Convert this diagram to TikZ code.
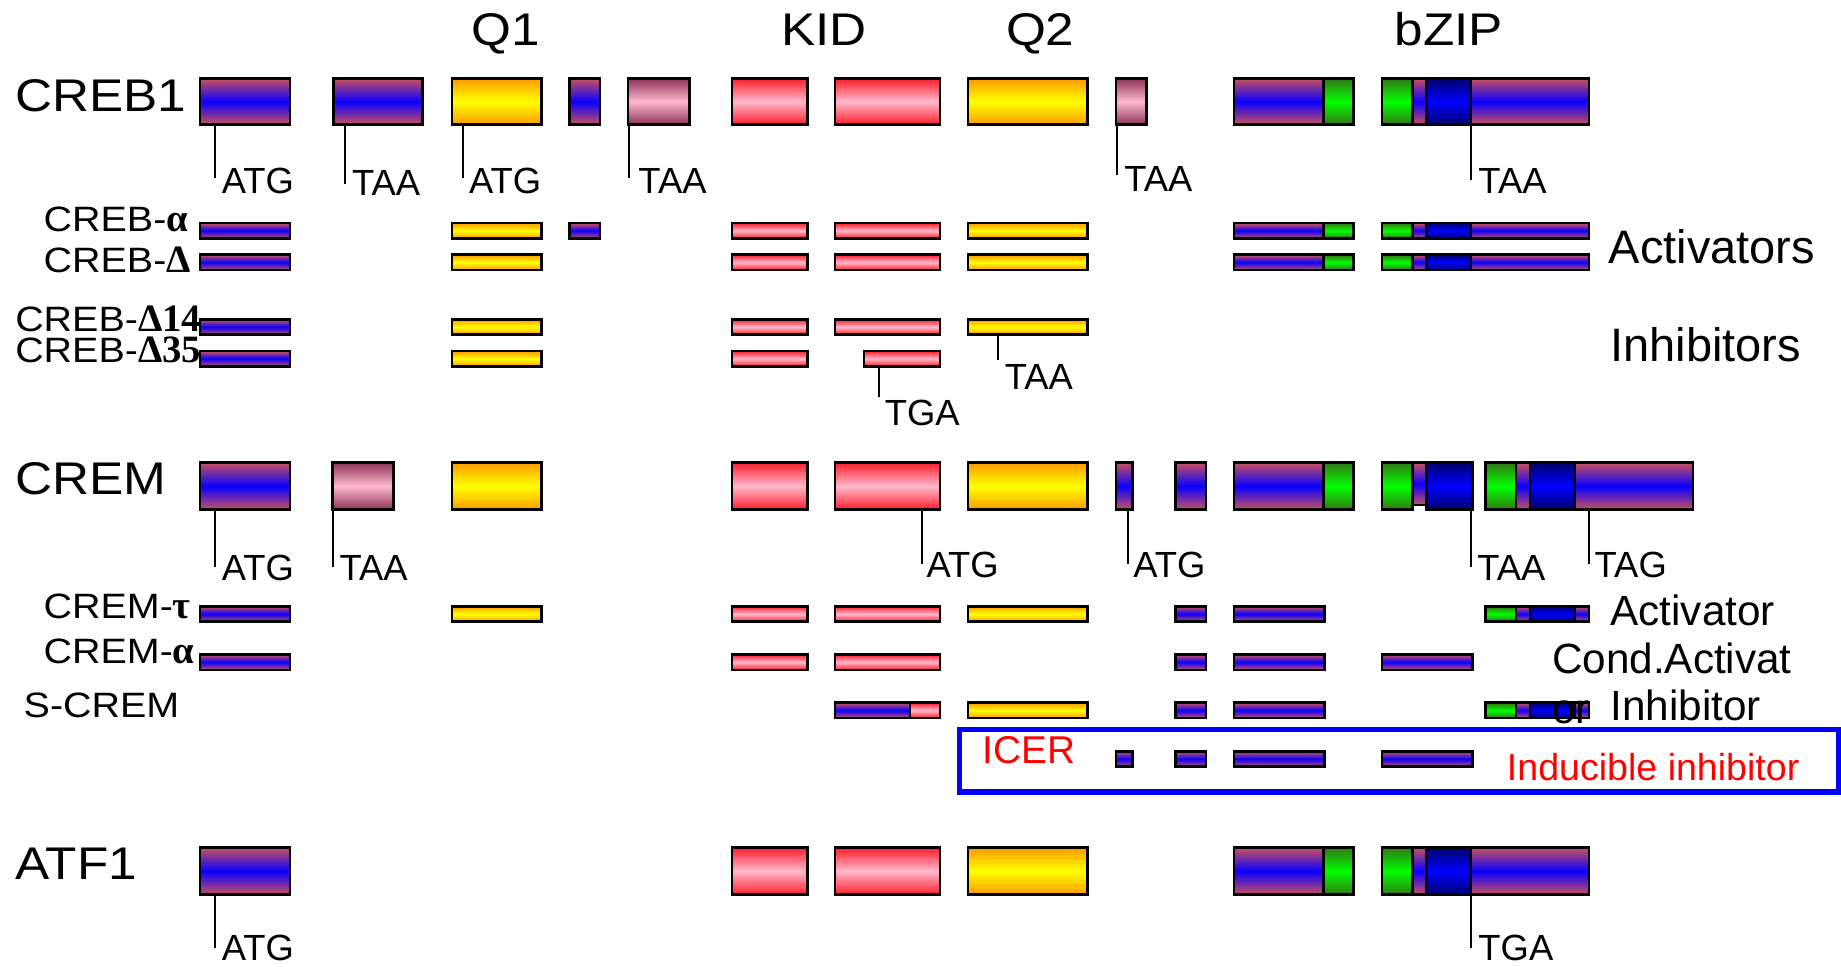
\documentclass[tikz,border=0pt]{standalone}
\usepackage{fontspec}
\setmainfont{Liberation Sans}
\newfontfamily\labfont[FakeStretch=1.12]{Liberation Sans}
\newfontfamily\grkfont{Liberation Serif}
\newcommand\fs[1]{\fontsize{#1pt}{#1pt}\selectfont}

% exon colours: edge / centre of each vertical gradient
\definecolor{purpEdge}{RGB}{200,80,95}
\definecolor{purpMid}{RGB}{10,0,255}
\definecolor{yelEdge}{RGB}{255,155,0}
\definecolor{yelMid}{RGB}{255,255,0}
\definecolor{kidEdge}{RGB}{255,30,45}
\definecolor{kidMid}{RGB}{255,185,205}
\definecolor{mauvEdge}{RGB}{140,50,90}
\definecolor{mauvMid}{RGB}{255,185,205}
\definecolor{grnEdge}{RGB}{50,120,20}
\definecolor{grnMid}{RGB}{0,255,0}
\definecolor{dbEdge}{RGB}{0,0,110}
\definecolor{dbMid}{RGB}{0,0,255}
\definecolor{frameBlue}{RGB}{0,0,255}
\definecolor{labRed}{RGB}{255,0,0}

\tikzset{
  box/.style={draw=black, line width=2.2pt},
  purp/.style={box, top color=purpEdge, bottom color=purpEdge, middle color=purpMid},
  yel/.style={box, top color=yelEdge, bottom color=yelEdge, middle color=yelMid},
  kid/.style={box, top color=kidEdge, bottom color=kidEdge, middle color=kidMid},
  mauv/.style={box, top color=mauvEdge, bottom color=mauvEdge, middle color=mauvMid},
  grn/.style={box, top color=grnEdge, bottom color=grnEdge, middle color=grnMid},
  dblu/.style={box, top color=dbEdge, bottom color=dbEdge, middle color=dbMid},
  txt/.style={inner sep=0pt, anchor=base west},
  head/.style={inner sep=0pt, anchor=base, font=\labfont\fs{39}},
  biglab/.style={txt, font=\labfont\fs{39}},
  sublab/.style={txt, font=\labfont\fs{30}},
  codon/.style={txt, font=\fs{31}},
  side/.style={txt, font=\fs{40}},
  sidesm/.style={txt, font=\fs{36}},
  tickline/.style={line width=1.8pt},
}

% one exon segment spanning the current row
\newcommand\exseg[3]{\path[#1] (#2,\ytop) rectangle (#3,\ybot);}
% codon mark: vertical line from (x,top) to (x,bottom), label at (lx,baseline)
\newcommand\codon[7]{%
  \coordinate (#1a) at (#2,#3);
  \coordinate (#1b) at (#2,#4);
  \draw[tickline] (#1a) -- (#1b);
  \node[codon] (#1) at (#5,#6) {#7};}
% Greek part of an isoform name
\newcommand\grk[1]{{\grkfont\bfseries\fs{33}#1}}

\begin{document}
\begin{tikzpicture}[x=1pt,y=-1pt]
\useasboundingbox (0,0) rectangle (1568,823);

% ---------- domain headers ----------
\node[head] (hQ1)   at (431,38.5)  {Q1};
\node[head] (hKID)  at (702,38.5)  {KID};
\node[head] (hQ2)   at (886,38.5)  {Q2};
\node[head] (hbZIP) at (1234,38.5) {bZIP};

% ---------- CREB1 gene ----------
\def\ytop{67}\def\ybot{106}
\exseg{purp}{170.5}{247}
\exseg{purp}{284}{360}
\exseg{yel}{385}{461}
\exseg{purp}{485}{511}
\exseg{mauv}{535}{587}
\exseg{kid}{623.5}{687.5}
\exseg{kid}{711}{800.5}
\exseg{yel}{824.5}{926}
\exseg{mauv}{950.5}{976.5}
\exseg{purp}{1051}{1127}\exseg{grn}{1127}{1153}
\exseg{purp}{1203}{1215}\exseg{grn}{1177}{1203}\exseg{dblu}{1215}{1253}\exseg{purp}{1253}{1353.5}

% CREB-alpha
\def\ytop{190}\def\ybot{203}
\exseg{purp}{170.5}{247}
\exseg{yel}{385}{461}
\exseg{purp}{485}{511}
\exseg{kid}{623.5}{687.5}
\exseg{kid}{711}{800.5}
\exseg{yel}{824.5}{926}
\exseg{purp}{1051}{1127}\exseg{grn}{1127}{1153}
\exseg{purp}{1203}{1215}\exseg{grn}{1177}{1203}\exseg{dblu}{1215}{1253}\exseg{purp}{1253}{1353.5}

% CREB-Delta
\def\ytop{217}\def\ybot{230}
\exseg{purp}{170.5}{247}
\exseg{yel}{385}{461}
\exseg{kid}{623.5}{687.5}
\exseg{kid}{711}{800.5}
\exseg{yel}{824.5}{926}
\exseg{purp}{1051}{1127}\exseg{grn}{1127}{1153}
\exseg{purp}{1203}{1215}\exseg{grn}{1177}{1203}\exseg{dblu}{1215}{1253}\exseg{purp}{1253}{1353.5}

% CREB-Delta14
\def\ytop{272}\def\ybot{285}
\exseg{purp}{170.5}{247}
\exseg{yel}{385}{461}
\exseg{kid}{623.5}{687.5}
\exseg{kid}{711}{800.5}
\exseg{yel}{824.5}{926}

% CREB-Delta35
\def\ytop{299}\def\ybot{312}
\exseg{purp}{170.5}{247}
\exseg{yel}{385}{461}
\exseg{kid}{623.5}{687.5}
\exseg{kid}{736}{800.5}

% ---------- CREM gene ----------
\def\ytop{394}\def\ybot{434}
\exseg{purp}{170.5}{247}
\exseg{mauv}{283}{335}
\exseg{yel}{385}{461}
\exseg{kid}{623.5}{687.5}
\exseg{kid}{711}{800.5}
\exseg{yel}{824.5}{926}
\exseg{purp}{950.5}{964.5}
\exseg{purp}{1001}{1027}
\exseg{purp}{1051}{1127}\exseg{grn}{1127}{1153}
\path[purp] (1203,394) rectangle (1215,430);
\exseg{grn}{1177}{1203}\exseg{dblu}{1215}{1254}
\exseg{grn}{1265}{1291}\exseg{purp}{1291}{1303}\exseg{dblu}{1303}{1341.5}\exseg{purp}{1341.5}{1442}

% CREM-tau
\def\ytop{516.5}\def\ybot{529.5}
\exseg{purp}{170.5}{247}
\exseg{yel}{385}{461}
\exseg{kid}{623.5}{687.5}
\exseg{kid}{711}{800.5}
\exseg{yel}{824.5}{926}
\exseg{purp}{1001}{1027}
\exseg{purp}{1051}{1128}
\exseg{grn}{1265}{1291}\exseg{purp}{1291}{1303}\exseg{dblu}{1303}{1341.5}\exseg{purp}{1341.5}{1353.5}

% CREM-alpha
\def\ytop{557.5}\def\ybot{570.5}
\exseg{purp}{170.5}{247}
\exseg{kid}{623.5}{687.5}
\exseg{kid}{711}{800.5}
\exseg{purp}{1001}{1027}
\exseg{purp}{1051}{1128}
\exseg{purp}{1177}{1254}

% S-CREM
\def\ytop{598.5}\def\ybot{611.5}
\exseg{purp}{711}{775}\exseg{kid}{775}{800.5}
\exseg{yel}{824.5}{926}
\exseg{purp}{1001}{1027}
\exseg{purp}{1051}{1128}
\exseg{grn}{1265}{1291}\exseg{purp}{1291}{1303}\exseg{dblu}{1303}{1341.5}\exseg{purp}{1341.5}{1353.5}

% ICER
\def\ytop{640}\def\ybot{653}
\exseg{purp}{950.5}{964.5}
\exseg{purp}{1001}{1027}
\exseg{purp}{1051}{1128}
\exseg{purp}{1177}{1254}

% ---------- ATF1 gene ----------
\def\ytop{722}\def\ybot{762}
\exseg{purp}{170.5}{247}
\exseg{kid}{623.5}{687.5}
\exseg{kid}{711}{800.5}
\exseg{yel}{824.5}{926}
\exseg{purp}{1051}{1127}\exseg{grn}{1127}{1153}
\exseg{purp}{1203}{1215}\exseg{grn}{1177}{1203}\exseg{dblu}{1215}{1253}\exseg{purp}{1253}{1353.5}

% ---------- frame round ICER ----------
\draw[frameBlue, line width=4.5pt] (817.3,621.4) rectangle (1565.6,674.6);

% ---------- gene and isoform names ----------
\node[biglab] (nCREB1) at (12.8,95)   {CREB1};
\node[biglab] (nCREM)  at (13,421.5)  {CREM};
\node[biglab] (nATF1)  at (13,749)    {ATF1};

\node[sublab] (nCREBa)   at (37,197.3)  {CREB-\grk{α}};
\node[sublab] (nCREBd)   at (37,232.5)  {CREB-\grk{Δ}};
\node[sublab] (nCREBd14) at (12.8,282)  {CREB-\grk{Δ14}};
\node[sublab] (nCREBd35) at (12.8,309)  {CREB-\grk{Δ35}};
\node[sublab] (nCREMt)   at (37,527)    {CREM-\grk{τ}};
\node[sublab] (nCREMa)   at (37,565)    {CREM-\grk{α}};
\node[sublab] (nSCREM)   at (20,611.5)  {S-CREM};

% ---------- functional classes ----------
\node[side]   (fAct)  at (1370,224.5)  {Activators};
\node[side]   (fInh)  at (1371.5,308)  {Inhibitors};
\node[sidesm] (fAct1) at (1371.4,532.4){Activator};
\node[sidesm] (fCond) at (1321.7,573.5){Cond.Activat};
\node[sidesm] (fOr)   at (1321.7,616)  {or};
\node[sidesm] (fInh1) at (1371.4,614)  {Inhibitor};
\node[txt, font=\fs{33}, text=labRed] (fICER) at (836.6,650) {ICER};
\node[txt, font=\fs{32}, text=labRed] (fInd)  at (1283.3,664.4) {Inducible inhibitor};

% ---------- start / stop codons ----------
% CREB1
\codon{kA}{183.2}{106.6}{152}{188.8}{165}{ATG}
\codon{kB}{294}{106.6}{157}{299.6}{166.5}{TAA}
\codon{kC}{394.4}{106.6}{152}{399.3}{165}{ATG}
\codon{kD}{536}{106.6}{152}{543.6}{165}{TAA}
\codon{kE}{951}{106.6}{149}{957.4}{163}{TAA}
\codon{kF}{1253}{106.6}{153}{1259}{165}{TAA}
% truncated CREB isoforms
\codon{kG}{850}{285.5}{306.6}{855.6}{332}{TAA}
\codon{kH}{749}{312.5}{338}{753.4}{362}{TGA}
% CREM
\codon{mA}{183.2}{434.5}{483}{188.8}{494}{ATG}
\codon{mB}{283.6}{434.5}{483}{289}{494}{TAA}
\codon{mC}{785}{434.5}{480}{789}{492}{ATG}
\codon{mD}{960.6}{434.5}{480}{965}{492}{ATG}
\codon{mE}{1253}{434.5}{482.7}{1258}{494}{TAA}
\codon{mF}{1353.3}{434.5}{480}{1358}{492}{TAG}
% ATF1
\codon{aA}{183.2}{762.5}{807}{188.8}{818}{ATG}
\codon{aB}{1253}{762.5}{807}{1259}{818}{TGA}
\end{tikzpicture}
\end{document}
